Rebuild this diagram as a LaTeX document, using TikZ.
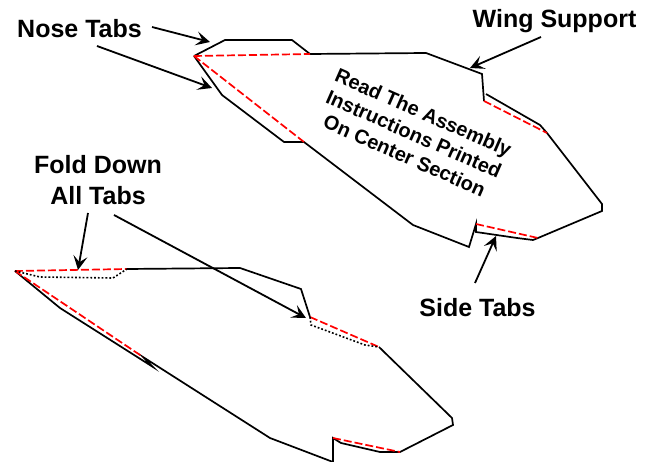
\documentclass[tikz,border=0pt]{standalone}
\usepackage{fontspec}
\setmainfont{Liberation Sans}
\usetikzlibrary{arrows.meta}
\tikzset{
  x=1pt,y=-1pt,
  outline/.style={draw=black,line width=1.7pt,line join=miter},
  fold/.style={draw=red,line width=1.7pt,dash pattern=on 8pt off 3pt},
  hidden/.style={draw=black,line width=1.6pt,dash pattern=on 1.8pt off 2pt},
  pointer/.style={draw=black,line width=1.8pt,-{Stealth[length=14pt,width=14pt,inset=6pt]}},
  lab/.style={font=\bfseries\fontsize{25}{31}\selectfont,align=center,inner sep=0pt,text=black},
  inst/.style={font=\bfseries\fontsize{20}{23.5}\selectfont,align=center,inner sep=0pt,text=black,rotate=-23.7}
}
\begin{document}
\begin{tikzpicture}
\useasboundingbox (0,0) rectangle (654,462);
% upper plane
\coordinate (a0) at (194,56);
\coordinate (a1) at (310,54);
\coordinate (a2) at (304,142);
\coordinate (a3) at (484,101);
\coordinate (a4) at (547,133);
\coordinate (a5) at (476,224);
\coordinate (a6) at (538,238);
\draw[outline] (a0) -- (225,40) -- (292,40) -- (a1) -- (426,53) -- (482,74) -- (a3);
\draw[outline] (486,94) -- (540,125) -- (a4) -- (602,204) -- (602,211) -- (a6) -- (533,240) -- (517,238) -- (476,232) -- (a5) -- (469,247) -- (413,225) -- (a2) -- (284,142) -- (222,95) -- (a0);
\draw[fold] (a0) -- (a1);
\draw[fold] (a0) -- (a2);
\draw[fold] (a3) -- (a4);
\draw[fold] (a5) -- (a6);
% lower plane
\coordinate (b0) at (15,271);
\coordinate (b1) at (127,269);
\coordinate (b2) at (143,357);
\coordinate (b3) at (310,317);
\coordinate (b4) at (379,347);
\coordinate (b5) at (333,438);
\coordinate (b6) at (400,452);
\draw[outline] (b1) -- (240,268) -- (301,289) -- (b3);
\draw[outline] (b4) -- (452,418) -- (453,425) -- (b6) -- (388,452) -- (380,452) -- (341,443) -- (b5) -- (333,462) -- (270,438) -- (b2) -- (153,367) -- (60,308) -- (b0);
\draw[fold] (b0) -- (b1);
\draw[fold] (b0) -- (b2);
\draw[fold] (b3) -- (b4);
\draw[fold] (b5) -- (b6);
\draw[hidden] (b0) -- (40,277) -- (113,278) -- (b1);
\draw[hidden] (b3) -- (311,325) -- (365,345) -- (b4);
% labels
\node[lab,anchor=base] (nose) at (79.5,38) {Nose Tabs};
\node[lab,anchor=base] (wing) at (554.5,28) {Wing Support};
\node[lab] (fold) at (98,180) {Fold Down\\All Tabs};
\node[lab,anchor=base] (side) at (477.5,317) {Side Tabs};
\node[inst] (note) at (414,134) {Read The Assembly\\Instructions Printed\\On Center Section};
% pointers
\coordinate (n0) at (152,27);
\coordinate (n1) at (210,42);
\coordinate (n3) at (97,46);
\coordinate (n2) at (212,88);
\coordinate (w0) at (541,37);
\coordinate (w1) at (470,68);
\coordinate (s0) at (475,283);
\coordinate (s1) at (496,236);
\coordinate (f0) at (88,213);
\coordinate (f1) at (78,270);
\coordinate (f3) at (114,215);
\coordinate (f2) at (306,318);
\draw[pointer] (n0) -- (n1);
\draw[pointer] (n3) -- (n2);
\draw[pointer] (w0) -- (w1);
\draw[pointer] (s0) -- (s1);
\draw[pointer] (f0) -- (f1);
\draw[pointer] (f3) -- (f2);
\end{tikzpicture}
\end{document}
